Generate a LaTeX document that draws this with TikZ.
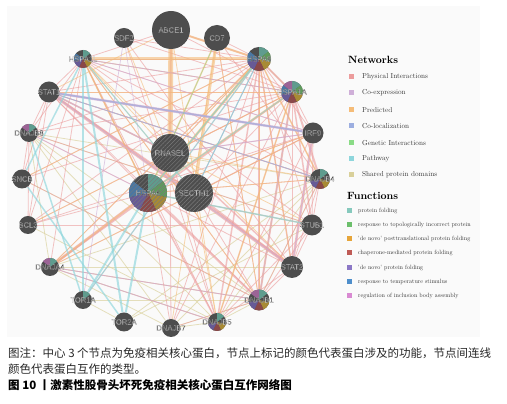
\documentclass[tikz,border=0pt]{standalone}
\usepackage{fontspec}
\newfontfamily\nodefont{Liberation Sans}
\newfontfamily\cjk{Noto Sans CJK SC}
\newfontfamily\legfont{lmroman10-regular.otf}
\usetikzlibrary{patterns.meta}
\definecolor{nodegray}{HTML}{4D4D4D}
\definecolor{bgpanel}{HTML}{FAFAFA}
% network colours
\definecolor{cPhys}{HTML}{EC9C9C}
\definecolor{cCoex}{HTML}{CFAFD8}
\definecolor{cPred}{HTML}{F5BC78}
\definecolor{cColoc}{HTML}{9CAEE0}
\definecolor{cGen}{HTML}{8ADB86}
\definecolor{cPath}{HTML}{8ED6DC}
\definecolor{cDom}{HTML}{D9D09A}
% function colours (legend)
\definecolor{fTeal}{HTML}{86C9BD}
\definecolor{fGreen}{HTML}{6CBF6C}
\definecolor{fGold}{HTML}{E6A53A}
\definecolor{fRed}{HTML}{BF5B56}
\definecolor{fPurple}{HTML}{8C78C6}
\definecolor{fBlue}{HTML}{4E8ECB}
\definecolor{fPink}{HTML}{D98AD2}
% function colours (on nodes, muted)
\definecolor{nTeal}{HTML}{5F9C8E}
\definecolor{nGreen}{HTML}{5E9A5C}
\definecolor{nGold}{HTML}{A88A34}
\definecolor{nRed}{HTML}{8A4848}
\definecolor{nPurple}{HTML}{675A96}
\definecolor{nBlue}{HTML}{4A77A2}
\definecolor{nPink}{HTML}{9C6496}
\newcommand\olab[1]{{\nodefont\fontsize{7.6}{8}\selectfont\special{pdf:literal direct 2 Tr 0.12 w 0.25 0.25 0.25 RG}#1\special{pdf:literal direct 0 Tr}}}
% wedge k of 7 (clockwise from top)
\newcommand\pwedge[2]{\fill[#2] (path picture bounding box.center) -- ++({90-(#1-1)*360/7}:30pt) arc[start angle={90-(#1-1)*360/7}, end angle={90-#1*360/7}, radius=30pt] -- cycle;}
\newcommand\qhatch{\fill[pattern={Lines[angle=45,distance=3pt,line width=0.5pt]}, pattern color=black!52] (path picture bounding box.south west) rectangle (path picture bounding box.north east);}
\pgfdeclarelayer{edges}
\pgfsetlayers{edges,main}
\tikzset{
  gnode/.style={circle, fill=nodegray, inner sep=0pt, minimum size=#1, text=white},
  pk/.style={draw=cPhys, line width=0.8pt, opacity=0.6},
  pr/.style={draw=cPred, line width=0.8pt, opacity=0.6},
  sd/.style={draw=cDom, line width=0.8pt, opacity=0.65},
  cx/.style={draw=cCoex, line width=0.8pt, opacity=0.65},
  cl/.style={draw=cColoc, line width=0.8pt, opacity=0.65},
  gi/.style={draw=cGen, line width=0.6pt, opacity=0.6},
  pw/.style={draw=cPath, line width=0.8pt, opacity=0.65},
  legsq/.style={fill=#1, minimum size=5pt, inner sep=0pt},
  legnet/.style={anchor=west, inner sep=0pt, font=\legfont\fontsize{7.2}{8}\selectfont, text=black!80},
  legfun/.style={anchor=west, inner sep=0pt, font=\legfont\fontsize{6.1}{7}\selectfont, text=black!80},
  leghead/.style={anchor=west, inner sep=0pt, font=\fontsize{10.5}{12}\selectfont\bfseries},
  capline/.style={anchor=west, inner sep=0pt, font=\cjk\fontsize{11.5}{13}\selectfont, text=black!85},
}
\begin{document}
\begin{tikzpicture}[x=1pt,y=1pt]
\useasboundingbox (0,0) rectangle (507,404);
% ---------- nodes ----------
\node[gnode=38pt] (ABCE1) at (171,374) {\makebox[0pt]{\olab{ABCE1}}};
\node[gnode=20pt] (SDF2) at (124,366) {\makebox[0pt]{\olab{SDF2}}};
\node[gnode=26pt] (CD7) at (217,366) {\makebox[0pt]{\olab{CD7}}};
\node[gnode=18pt, path picture={\pwedge{1}{nTeal}\pwedge{3}{nGold}\pwedge{4}{nRed}\pwedge{5}{nPurple}\pwedge{6}{nBlue}}] (HSPA1L) at (83,345) {\makebox[0pt]{\olab{HSPA1L}}};
\node[gnode=24pt, path picture={\pwedge{1}{nTeal}\pwedge{2}{nGreen}\pwedge{3}{nGold}\pwedge{4}{nRed}\pwedge{5}{nPurple}\pwedge{6}{nBlue}}] (HSPA8) at (259,345) {\makebox[0pt]{\olab{HSPA8}}};
\node[gnode=21pt] (STAT1) at (49,312) {\makebox[0pt]{\olab{STAT1}}};
\node[gnode=22pt, path picture={\pwedge{1}{nTeal}\pwedge{2}{nGreen}\pwedge{3}{nGold}\pwedge{4}{nRed}\pwedge{5}{nPurple}\pwedge{6}{nBlue}\pwedge{7}{nPink}}] (HSPA1A) at (292,312) {\makebox[0pt]{\olab{HSPA1A}}};
\node[gnode=18pt, path picture={\pwedge{1}{nTeal}\pwedge{7}{nPink}}] (DNAJB8) at (29,271) {\makebox[0pt]{\olab{DNAJB8}}};
\node[gnode=21pt] (IRF9) at (313,271) {\makebox[0pt]{\olab{IRF9}}};
\node[gnode=38pt, path picture={\qhatch}] (RNASEL) at (170,251) {\makebox[0pt]{\olab{RNASEL}}};
\node[gnode=19pt] (SNCB) at (22,225) {\makebox[0pt]{\olab{SNCB}}};
\node[gnode=20pt, path picture={\pwedge{1}{nTeal}\pwedge{3}{nGold}\pwedge{4}{nRed}\pwedge{5}{nPurple}}] (DNAJB4) at (320,225) {\makebox[0pt]{\olab{DNAJB4}}};
\node[gnode=38pt, path picture={\pwedge{1}{nTeal}\pwedge{2}{nGreen}\pwedge{3}{nGold}\pwedge{4}{nRed}\pwedge{5}{nPurple}\pwedge{6}{nBlue}\qhatch}] (HSPA6) at (148,211) {\makebox[0pt]{\olab{HSPA6}}};
\node[gnode=38pt, path picture={\qhatch}] (SECTM1) at (194,211) {\makebox[0pt]{\olab{SECTM1}}};
\node[gnode=18pt] (BCL3) at (28,179) {\makebox[0pt]{\olab{BCL3}}};
\node[gnode=21pt] (STUB1) at (312,179) {\makebox[0pt]{\olab{STUB1}}};
\node[gnode=18pt, path picture={\pwedge{1}{nTeal}\pwedge{7}{nPink}}] (DNAJA4) at (50,137) {\makebox[0pt]{\olab{DNAJA4}}};
\node[gnode=22pt] (STAT2) at (292,137) {\makebox[0pt]{\olab{STAT2}}};
\node[gnode=18pt, path picture={\pwedge{1}{nTeal}}] (TOR1A) at (83,104) {\makebox[0pt]{\olab{TOR1A}}};
\node[gnode=21pt, path picture={\pwedge{1}{nTeal}\pwedge{3}{nGold}\pwedge{4}{nRed}\pwedge{5}{nPurple}\pwedge{7}{nPink}}] (DNAJB1) at (259,104) {\makebox[0pt]{\olab{DNAJB1}}};
\node[gnode=19pt] (TOR2A) at (124,82) {\makebox[0pt]{\olab{TOR2A}}};
\node[gnode=18pt, path picture={\pwedge{1}{nTeal}\pwedge{3}{nGold}\pwedge{4}{nRed}\pwedge{5}{nPurple}}] (DNAJB5) at (217,82) {\makebox[0pt]{\olab{DNAJB5}}};
\node[gnode=18pt] (DNAJB7) at (171,76) {\makebox[0pt]{\olab{DNAJB7}}};
% ---------- edges ----------
\begin{pgfonlayer}{edges}
\fill[bgpanel] (7,67) rectangle (480,398);
% shared protein domains
\foreach \a/\b in {DNAJB8/DNAJB4,DNAJB8/DNAJA4,DNAJB8/DNAJB1,DNAJB8/DNAJB5,DNAJB8/DNAJB7,DNAJB4/DNAJA4,DNAJB4/DNAJB1,DNAJB4/DNAJB5,DNAJB4/DNAJB7,DNAJA4/DNAJB1,DNAJA4/DNAJB5,DNAJA4/DNAJB7,DNAJB1/DNAJB5,DNAJB1/DNAJB7,DNAJB5/DNAJB7,HSPA8/HSPA1A,HSPA8/HSPA1L,HSPA1A/HSPA1L,HSPA1L/HSPA6,STAT1/STAT2,TOR1A/TOR2A,TOR1A/DNAJB1,TOR2A/DNAJB4,DNAJA4/STAT2,BCL3/DNAJB5,SNCB/DNAJB1,DNAJB8/STUB1,TOR2A/STUB1}
  \draw[sd] (\a) -- (\b);
% physical interactions
\foreach \a/\b in {HSPA8/HSPA1L,HSPA8/DNAJB4,HSPA8/STUB1,HSPA8/DNAJA4,HSPA8/STAT1,HSPA8/DNAJB8,HSPA8/BCL3,HSPA8/RNASEL,HSPA8/DNAJB7,HSPA8/IRF9,HSPA8/SECTM1,HSPA8/SNCB,HSPA8/TOR1A,HSPA8/CD7,
  HSPA1A/HSPA6,HSPA1A/STAT2,HSPA1A/HSPA1L,HSPA1A/STAT1,HSPA1A/DNAJB8,HSPA1A/SNCB,HSPA1A/BCL3,HSPA1A/IRF9,HSPA1A/DNAJB7,HSPA1A/RNASEL,HSPA1A/SECTM1,HSPA1A/ABCE1,HSPA1A/DNAJB5,
  HSPA6/DNAJB4,HSPA6/STUB1,HSPA6/DNAJB8,HSPA6/STAT1,HSPA6/HSPA1L,HSPA6/DNAJB7,HSPA6/STAT2,HSPA6/IRF9,HSPA6/BCL3,
  HSPA1L/DNAJB1,HSPA1L/STUB1,HSPA1L/DNAJB4,HSPA1L/DNAJA4,HSPA1L/DNAJB8,HSPA1L/STAT1,HSPA1L/DNAJB5,HSPA1L/IRF9,HSPA1L/BCL3,
  STAT1/BCL3,STAT1/DNAJB8,STAT1/SNCB,STAT1/DNAJB4,STAT1/DNAJB1,
  STAT2/STUB1,STAT2/DNAJB1,STAT2/DNAJB4,STAT2/DNAJB5,
  DNAJB1/STUB1,DNAJB1/DNAJB4,DNAJB1/DNAJA4,DNAJB1/SNCB,DNAJB1/DNAJB7,
  STUB1/DNAJB4,STUB1/IRF9,STUB1/DNAJB5,STUB1/BCL3,STUB1/DNAJB8,
  RNASEL/IRF9,RNASEL/DNAJB7,RNASEL/DNAJB5,SECTM1/IRF9,SECTM1/DNAJB1,
  DNAJB5/DNAJA4,DNAJB8/SNCB,DNAJB8/BCL3,SDF2/DNAJB5,SDF2/HSPA1A,SDF2/STAT2,
  CD7/DNAJB1,CD7/DNAJB4,IRF9/DNAJB5,IRF9/BCL3,IRF9/DNAJA4,ABCE1/HSPA1L,SDF2/HSPA8}
  \draw[pk] (\a) -- (\b);
\foreach \a/\b/\w in {STAT1/STAT2/3,STAT2/IRF9/2.5,STAT1/IRF9/1.5,ABCE1/RNASEL/2,HSPA8/DNAJB1/2,HSPA8/STAT2/1.5,HSPA1A/DNAJB4/2,HSPA1A/STUB1/1.5,HSPA6/DNAJB1/2,HSPA6/DNAJB5/1.5,HSPA6/DNAJA4/2.5,SECTM1/STAT2/2,RNASEL/STAT2/1.5,HSPA8/DNAJB5/1.5,HSPA1A/DNAJB1/2,HSPA1A/HSPA8/2,STAT1/SECTM1/1.5,HSPA8/HSPA6/1.5,DNAJA4/HSPA1A/1.5,ABCE1/HSPA8/1.5,RNASEL/STAT1/1.5}
  \draw[pk, line width=\w pt] (\a) -- (\b);
% predicted
\foreach \a/\b in {HSPA8/RNASEL,HSPA8/DNAJB1,HSPA8/STAT2,HSPA1A/DNAJB1,HSPA1A/STAT1,HSPA1L/RNASEL,HSPA1L/DNAJB1,ABCE1/STAT1,CD7/DNAJB1,IRF9/HSPA6,DNAJB4/HSPA6,STUB1/HSPA6,SECTM1/DNAJB5,STAT1/DNAJB4,IRF9/DNAJA4,HSPA8/DNAJA4,HSPA1A/BCL3,HSPA8/SNCB,CD7/DNAJB7,ABCE1/DNAJB5,HSPA1L/STAT2,RNASEL/DNAJB4,STAT1/STUB1,HSPA1L/SECTM1,SDF2/RNASEL}
  \draw[pr] (\a) -- (\b);
\foreach \a/\b/\w in {ABCE1/RNASEL/5,CD7/SECTM1/3,HSPA1L/HSPA8/3,HSPA8/HSPA6/2.5,HSPA1A/HSPA6/2,CD7/HSPA6/1.5,HSPA6/DNAJA4/1.5,ABCE1/HSPA8/2,HSPA8/DNAJB4/1.5,HSPA1A/DNAJB5/1.5,HSPA1L/HSPA6/1.5}
  \draw[pr, line width=\w pt] (\a) -- (\b);
% co-expression
\foreach \a/\b/\w in {STAT1/IRF9/2.5,STAT1/STAT2/1,STAT2/IRF9/1,DNAJA4/DNAJB1/0.7,SDF2/TOR1A/0.7,HSPA1L/IRF9/0.7,RNASEL/IRF9/1,HSPA1A/DNAJB1/0.7,DNAJB8/HSPA6/0.7,RNASEL/STAT1/1.2,DNAJB4/STAT1/0.7,HSPA1L/HSPA1A/0.7,DNAJA4/DNAJB5/0.7,SDF2/HSPA6/0.6}
  \draw[cx, line width=\w pt] (\a) -- (\b);
% co-localization
\foreach \a/\b/\w in {STAT1/IRF9/1.5,STAT1/DNAJB4/0.8,HSPA8/SECTM1/0.7}
  \draw[cl, line width=\w pt] (\a) -- (\b);
% genetic interactions
\foreach \a/\b in {CD7/HSPA6,HSPA8/HSPA6}
  \draw[gi] (\a) -- (\b);
% pathway
\foreach \a/\b/\w in {HSPA1L/TOR1A/2,HSPA1L/TOR2A/2,HSPA1L/SNCB/1.5,HSPA6/TOR1A/2,HSPA6/TOR2A/2,DNAJB8/TOR1A/1.5,HSPA8/TOR1A/1.2,HSPA6/STUB1/1.5,SNCB/TOR2A/1.5,HSPA8/SECTM1/1,HSPA1L/SECTM1/1.2,HSPA1A/HSPA6/1,HSPA8/HSPA6/1}
  \draw[pw, line width=\w pt] (\a) -- (\b);
\end{pgfonlayer}
% ---------- legend ----------
\node[leghead] (nethead) at (348,344) {Networks};
\foreach \c/\t/\y [count=\i] in {cPhys/Physical Interactions/327,cCoex/Co-expression/311,cPred/Predicted/294,cColoc/Co-localization/278,cGen/Genetic Interactions/261,cPath/Pathway/245,cDom/Shared protein domains/229}{
  \node[legsq=\c] (nsq\i) at (351,\y) {};
  \node[legnet] (ntx\i) at (362,\y) {\t};
}
\node[leghead] (funhead) at (347,208) {Functions};
\foreach \c/\t/\y [count=\i] in {fTeal/protein folding/193,fGreen/response to topologically incorrect protein/179,fGold/'de novo' posttranslational protein folding/165,fRed/chaperone-mediated protein folding/151,fPurple/'de novo' protein folding/136,fBlue/response to temperature stimulus/122,fPink/regulation of inclusion body assembly/108}{
  \node[legsq=\c] (fsq\i) at (349,\y) {};
  \node[legfun] (ftx\i) at (358,\y) {\t};
}
% ---------- caption ----------
\node[capline] (cap1) at (8,51) {图注：中心 3 个节点为免疫相关核心蛋白，节点上标记的颜色代表蛋白涉及的功能，节点间连线};
\node[capline] (cap2) at (8,35) {颜色代表蛋白互作的类型。};
\node[capline, font=\cjk\bfseries\fontsize{11.5}{13}\selectfont, text=black] (cap3) at (8,19) {图 10 丨激素性股骨头坏死免疫相关核心蛋白互作网络图};
\end{tikzpicture}
\end{document}
